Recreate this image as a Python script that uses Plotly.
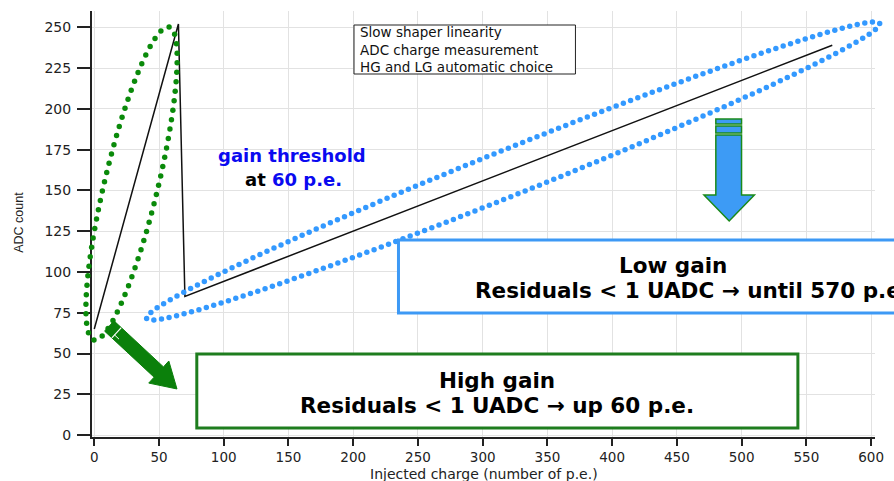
import numpy as np
import plotly.graph_objects as go

# ---- data ----
charge = [0, 65, 70, 570]          # injected charge (p.e.)
adc = [65, 252, 85, 239]           # ADC count
x_ticks = list(range(0, 601, 50))
y_ticks = list(range(0, 251, 25))

legend_lines = ["Slow shaper linearity", "ADC charge measurement", "HG and LG automatic choice"]

# ---- layout geometry (pixels) ----
W, H = 894, 481
L, R, T, B = 92, 10, 11, 44
PW, PH = W - L - R, H - T - B
XR = [-1.75, 603]
YR = [-1.2, 260]


def pp(X, Y):
    """pixel -> paper"""
    return (X - L) / PW, (H - B - Y) / PH


shapes = []


def ellipse_dots(cx, cy, a, b, ux, uy, spacing, color, d):
    t = np.linspace(0, 2 * np.pi, 6000)
    vx, vy = -uy, ux
    X = cx + a * np.cos(t) * ux + b * np.sin(t) * vx
    Y = cy + a * np.cos(t) * uy + b * np.sin(t) * vy
    seg = np.hypot(np.diff(X), np.diff(Y))
    s = np.concatenate([[0], np.cumsum(seg)])
    n = int(round(s[-1] / spacing))
    ss = np.linspace(0, s[-1], n, endpoint=False)
    for Xi, Yi in zip(np.interp(ss, s, X), np.interp(ss, s, Y)):
        a0, b0 = pp(Xi - d / 2, Yi + d / 2)
        a1, b1 = pp(Xi + d / 2, Yi - d / 2)
        shapes.append(dict(type="circle", xref="paper", yref="paper",
                           x0=a0, y0=b0, x1=a1, y1=b1, fillcolor=color,
                           line=dict(width=0), layer="above"))


fig = go.Figure()

# data line
fig.add_trace(go.Scatter(x=charge, y=adc, mode="lines",
                         line=dict(color="#111111", width=1.5),
                         showlegend=False, hoverinfo="skip"))


def rect(x0, y0, x1, y1, color, width, fill="white"):
    a0, b0 = pp(x0, y0)
    a1, b1 = pp(x1, y1)
    shapes.append(dict(type="rect", xref="paper", yref="paper",
                       x0=a0, y0=b0, x1=a1, y1=b1,
                       line=dict(color=color, width=width),
                       fillcolor=fill, layer="above"))


def poly(points, fill, color, width):
    path = ""
    for i, (X, Y) in enumerate(points):
        a, b = pp(X, Y)
        path += ("M" if i == 0 else "L") + f"{a:.5f},{b:.5f} "
    path += "Z"
    shapes.append(dict(type="path", xref="paper", yref="paper", path=path,
                       fillcolor=fill, line=dict(color=color, width=width),
                       layer="above"))


def seg(p, q, color, width):
    a0, b0 = pp(*p)
    a1, b1 = pp(*q)
    shapes.append(dict(type="line", xref="paper", yref="paper",
                       x0=a0, y0=b0, x1=a1, y1=b1,
                       line=dict(color=color, width=width), layer="above"))


# dotted ellipses
gu = np.array([76, -313.0]); gu /= np.hypot(*gu)
ellipse_dots(132, 183.5, 161, 27, gu[0], gu[1], 9.5, "#0a8a0a", 5.5)
bu = np.array([739, -294.0]); bu /= np.hypot(*bu)
ellipse_dots(518, 171, 399, 23, bu[0], bu[1], 7.8, "#3399ff", 5.5)

# legend-like text box
rect(357, 25, 581, 74, "#222222", 1)

# low gain / high gain boxes
rect(402, 240, 910, 313, "#3d99f5", 3)
rect(198, 354, 806, 428, "#1e7d1e", 3)

# green block arrow
Tt = np.array([109.5, 326.0])
u = np.array([68.5, 63.0]); u /= np.hypot(*u)
n = np.array([u[1], -u[0]])
hw, hh, base, length = 7.0, 15.0, 68.0, 93.0
pts = [Tt + hw * n, Tt + base * u + hw * n, Tt + base * u + hh * n,
       Tt + length * u, Tt + base * u - hh * n, Tt + base * u - hw * n, Tt - hw * n]
poly([tuple(p) for p in pts], "#0b800b", "#0b800b", 1)
seg(tuple(Tt + 10 * u + hw * n), tuple(Tt + 10 * u - hw * n), "white", 1.2)
seg(tuple(Tt + 10 * u - 3 * n), tuple(Tt + 16 * u - 3 * n), "white", 1)

# blue down arrow with green outline
poly([(723, 119), (749, 119), (749, 124), (723, 124)], "#3d9bf5", "#1a8a1a", 1.5)
poly([(723, 126), (749, 126), (749, 133), (723, 133)], "#3d9bf5", "#1a8a1a", 1.5)
poly([(723, 135), (749, 135), (749, 195), (762, 195), (736.5, 221),
      (711, 195), (723, 195)], "#3d9bf5", "#1a8a1a", 1.5)

annotations = []


def text(X, Y, s, size, color="#000000", family="DejaVu Sans", xanchor="center", angle=0,
         align="center"):
    a, b = pp(X, Y)
    annotations.append(dict(xref="paper", yref="paper", x=a, y=b, text=s,
                            showarrow=False, xanchor=xanchor, yanchor="middle",
                            textangle=angle, align=align,
                            font=dict(family=family, size=size, color=color)))


text(361, 49.5, "<br>".join(legend_lines), 13.5, "#111111", "DejaVu Sans",
     xanchor="left", align="left")

text(294, 155, "<b>gain threshold</b>", 18, "#0a0af0")
text(296, 180, "<b>at <span style='color:#0a0af0'>60 p.e.</span></b>", 18, "#000000")

text(680, 265, "<b>Low gain</b>", 21.5)
text(477, 290, "<b>Residuals &lt; 1 UADC → until 570 p.e.</b>", 21.5, xanchor="left")
text(502, 380, "<b>High gain</b>", 21.5)
text(502, 405, "<b>Residuals &lt; 1 UADC → up 60 p.e.</b>", 21.5)

text(488, 473.5, "Injected charge (number of p.e.)", 14, "#222222")
text(18, 222, "ADC count", 12.5, "#222222", "Liberation Sans", angle=-90)

fig.update_layout(
    width=W, height=H,
    margin=dict(l=L, r=R, t=T, b=B, pad=0),
    paper_bgcolor="white", plot_bgcolor="white",
    showlegend=False,
    shapes=shapes, annotations=annotations,
    xaxis=dict(range=XR, tickvals=x_ticks, ticks="outside", ticklen=7,
               tickcolor="#222222", tickwidth=1.5,
               showline=True, linecolor="#222222", linewidth=2,
               showgrid=True, gridcolor="#e2e2e2", gridwidth=1, zeroline=False,
               tickfont=dict(family="DejaVu Sans", size=13.5, color="#222222")),
    yaxis=dict(range=YR, tickvals=y_ticks, ticks="outside", ticklen=13,
               tickcolor="#222222", tickwidth=1.5, ticklabelstandoff=3,
               showline=True, linecolor="#222222", linewidth=2,
               showgrid=True, gridcolor="#e2e2e2", gridwidth=1, zeroline=False,
               tickfont=dict(family="DejaVu Sans", size=14, color="#222222")),
)

fig.write_html("out.html")
